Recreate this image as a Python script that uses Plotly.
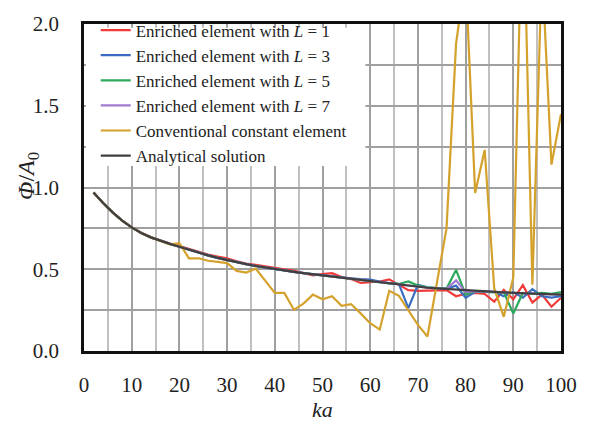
import plotly.graph_objects as go

ka = [2, 4, 6, 8, 10, 12, 14, 16, 18, 20, 22, 24, 26, 28, 30, 32, 34, 36, 38, 40,
      42, 44, 46, 48, 50, 52, 54, 56, 58, 60, 62, 64, 66, 68, 70, 72, 74, 76, 78, 80,
      82, 84, 86, 88, 90, 92, 94, 96, 98, 100]

analytical = [0.970, 0.905, 0.848, 0.798, 0.756, 0.722, 0.695, 0.673, 0.655, 0.638,
              0.619, 0.601, 0.585, 0.570, 0.556, 0.543, 0.531, 0.520, 0.510, 0.501,
              0.492, 0.484, 0.476, 0.469, 0.462, 0.455, 0.447, 0.440, 0.432, 0.425,
              0.418, 0.411, 0.404, 0.398, 0.392, 0.387, 0.383, 0.379, 0.375, 0.372,
              0.368, 0.365, 0.362, 0.359, 0.356, 0.353, 0.351, 0.349, 0.347, 0.345]

enriched_L1 = [0.970, 0.905, 0.848, 0.798, 0.757, 0.723, 0.697, 0.675, 0.657, 0.642,
               0.624, 0.606, 0.590, 0.577, 0.567, 0.548, 0.535, 0.527, 0.517, 0.508,
               0.500, 0.492, 0.477, 0.462, 0.470, 0.476, 0.452, 0.440, 0.416, 0.420,
               0.425, 0.438, 0.405, 0.372, 0.368, 0.370, 0.374, 0.372, 0.335, 0.350,
               0.355, 0.349, 0.302, 0.374, 0.316, 0.403, 0.297, 0.345, 0.271, 0.326]

enriched_L3 = [0.970, 0.905, 0.848, 0.798, 0.756, 0.722, 0.695, 0.673, 0.655, 0.638,
               0.619, 0.601, 0.585, 0.570, 0.556, 0.543, 0.531, 0.520, 0.510, 0.501,
               0.492, 0.484, 0.476, 0.469, 0.462, 0.455, 0.449, 0.445, 0.440, 0.437,
               0.425, 0.415, 0.410, 0.262, 0.405, 0.390, 0.385, 0.381, 0.400, 0.326,
               0.362, 0.360, 0.362, 0.335, 0.360, 0.326, 0.378, 0.335, 0.326, 0.335]

enriched_L5 = [0.970, 0.905, 0.848, 0.798, 0.756, 0.722, 0.695, 0.673, 0.655, 0.638,
               0.619, 0.601, 0.585, 0.570, 0.556, 0.543, 0.531, 0.520, 0.510, 0.501,
               0.492, 0.484, 0.476, 0.469, 0.462, 0.455, 0.447, 0.440, 0.432, 0.425,
               0.418, 0.413, 0.410, 0.425, 0.400, 0.390, 0.385, 0.382, 0.496, 0.345,
               0.365, 0.362, 0.358, 0.360, 0.229, 0.355, 0.350, 0.355, 0.350, 0.360]

enriched_L7 = [0.970, 0.905, 0.848, 0.798, 0.756, 0.722, 0.695, 0.673, 0.655, 0.638,
               0.619, 0.601, 0.585, 0.570, 0.556, 0.543, 0.531, 0.520, 0.510, 0.501,
               0.492, 0.484, 0.476, 0.469, 0.462, 0.455, 0.447, 0.440, 0.432, 0.425,
               0.418, 0.411, 0.404, 0.398, 0.392, 0.387, 0.383, 0.380, 0.432, 0.360,
               0.366, 0.364, 0.361, 0.358, 0.355, 0.352, 0.350, 0.348, 0.346, 0.344]

conventional = [0.970, 0.905, 0.848, 0.798, 0.756, 0.722, 0.695, 0.673, 0.652, 0.660,
                0.567, 0.567, 0.552, 0.545, 0.538, 0.490, 0.480, 0.504, 0.430, 0.355,
                0.355, 0.252, 0.290, 0.345, 0.316, 0.335, 0.277, 0.287, 0.230, 0.170,
                0.131, 0.368, 0.338, 0.250, 0.160, 0.089, 0.420, 0.750, 1.880, 2.300,
                0.967, 1.230, 0.384, 0.209, 0.450, 2.900, 0.405, 2.350, 1.140, 1.450]

names = ["Enriched element with <i>L</i> = 1",
         "Enriched element with <i>L</i> = 3",
         "Enriched element with <i>L</i> = 5",
         "Enriched element with <i>L</i> = 7",
         "Conventional constant element",
         "Analytical solution"]
series = [enriched_L1, enriched_L3, enriched_L5, enriched_L7, conventional, analytical]
colors = ["#f03a3a", "#3a6cc2", "#2ea85c", "#a27ad2", "#d4a22c", "#3f3f3f"]

x_ticks = [0, 10, 20, 30, 40, 50, 60, 70, 80, 90, 100]
y_ticks = [0.0, 0.5, 1.0, 1.5, 2.0]

fig = go.Figure()
for name, ys, c in zip(names, series, colors):
    fig.add_trace(go.Scatter(x=ka, y=ys, mode="lines", name=name,
                             line=dict(color=c, width=2.2)))

serif = "Liberation Serif, Times New Roman, serif"

# white panel behind the legend, hiding the grid there (no data lies in this area)
fig.add_shape(type="rect", xref="paper", yref="paper",
              x0=0.004, x1=0.59, y0=(359 - 165) / 343, y1=(359 - 20) / 343,
              fillcolor="white", line_width=0, layer="above")

fig.add_annotation(text="<i>Φ</i>/<i>A</i><sub>0</sub>", xref="paper", yref="paper",
                   x=(26 - 84) / 488, y=(359 - 175) / 343, textangle=-90,
                   showarrow=False, font=dict(family=serif, size=24, color="#222"),
                   xanchor="center", yanchor="middle")

fig.update_layout(
    width=589, height=424,
    margin=dict(l=84, r=17, t=16, b=65),
    paper_bgcolor="white", plot_bgcolor="white",
    font=dict(family=serif, size=21, color="#222"),
    showlegend=True,
    legend=dict(x=(96 - 84) / 488, y=1.035, xanchor="left", yanchor="top",
                bgcolor="rgba(0,0,0,0)", borderwidth=0,
                font=dict(family=serif, size=17, color="#222"),
                tracegroupgap=0, itemwidth=30),
    xaxis=dict(range=[0, 100], tickvals=x_ticks, ticktext=[str(v) for v in x_ticks],
               showgrid=True, gridcolor="#a0a0a0", gridwidth=1.5,
               minor=dict(dtick=5, tick0=0, showgrid=True, gridcolor="#c0c0c0", gridwidth=1.5),
               showline=True, linecolor="#111", linewidth=2.5, mirror=True,
               ticks="", zeroline=False, ticklabelstandoff=13,
               title=dict(text="<i>ka</i>", font=dict(family=serif, size=22), standoff=0)),
    yaxis=dict(range=[0, 2], tickvals=y_ticks, ticktext=["%.1f" % v for v in y_ticks],
               showgrid=True, gridcolor="#a0a0a0", gridwidth=1.5,
               minor=dict(dtick=0.25, tick0=0, showgrid=True, gridcolor="#a0a0a0", gridwidth=1.5),
               showline=True, linecolor="#111", linewidth=2.5, mirror=True,
               ticks="", zeroline=False, ticklabelstandoff=18),
)

fig.write_html("out.html")
